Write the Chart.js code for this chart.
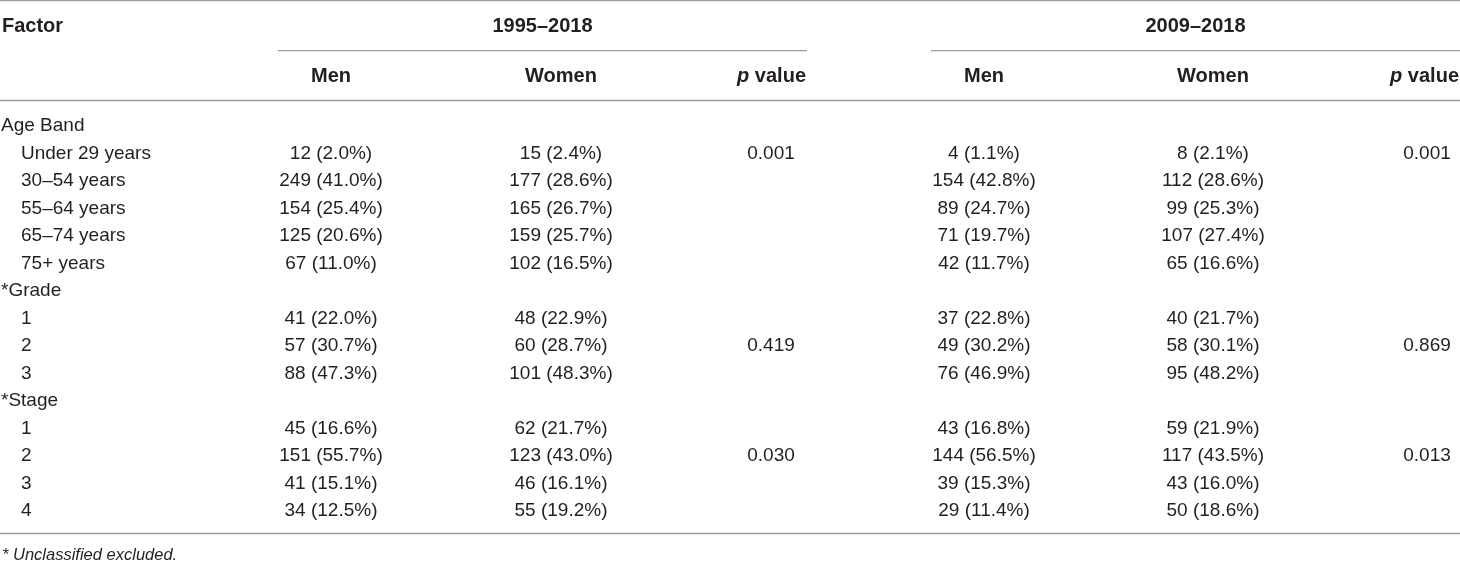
<!DOCTYPE html>
<html>
<head>
<meta charset="utf-8">
<script src="https://cdn.jsdelivr.net/npm/chart.js@4/dist/chart.umd.min.js"></script>
<style>
  html, body { margin: 0; padding: 0; background: #fff; }
  canvas { display: block; }
</style>
</head>
<body>
<canvas id="table" width="1460" height="561"></canvas>
<script>
// --- table data ---
const periods = ['1995–2018', '2009–2018'];
const factors = ['Age Band', '*Grade', '*Stage'];
const levels = [
  ['Under 29 years', '30–54 years', '55–64 years', '65–74 years', '75+ years'],
  ['1', '2', '3'],
  ['1', '2', '3', '4']
];

// counts and percentages, levels flattened in order age, grade, stage
const menN9518   = [12, 249, 154, 125, 67, 41, 57, 88, 45, 151, 41, 34];
const menP9518   = [2.0, 41.0, 25.4, 20.6, 11.0, 22.0, 30.7, 47.3, 16.6, 55.7, 15.1, 12.5];
const womenN9518 = [15, 177, 165, 159, 102, 48, 60, 101, 62, 123, 46, 55];
const womenP9518 = [2.4, 28.6, 26.7, 25.7, 16.5, 22.9, 28.7, 48.3, 21.7, 43.0, 16.1, 19.2];
const menN0918   = [4, 154, 89, 71, 42, 37, 49, 76, 43, 144, 39, 29];
const menP0918   = [1.1, 42.8, 24.7, 19.7, 11.7, 22.8, 30.2, 46.9, 16.8, 56.5, 15.3, 11.4];
const womenN0918 = [8, 112, 99, 107, 65, 40, 58, 95, 59, 117, 43, 50];
const womenP0918 = [2.1, 28.6, 25.3, 27.4, 16.6, 21.7, 30.1, 48.2, 21.9, 43.5, 16.0, 18.6];

const pValues9518 = ['0.001', '0.419', '0.030'];
const pValues0918 = ['0.001', '0.869', '0.013'];
const pLevel = [0, 1, 1]; // level row that carries the p value of each factor

const footnote = '* Unclassified excluded.';

// --- layout (pixels on x, row units on y) ---
const COL_X = [331, 561, 984, 1213];
const P_X = [771, 1427];
const SPANS = [[278, 807], [931, 1460]];
const ROW_H = 27.5;
const FIRST_ROW_PX = 126;
const Y_MIN = -FIRST_ROW_PX / ROW_H;
const Y_MAX = Y_MIN + 561 / ROW_H;
const rowAt = px => (px - FIRST_ROW_PX) / ROW_H;

const INK = '#231f20';
const RULE = '#9d9d9d';
const FONT = '"Liberation Sans", Arial, Helvetica, sans-serif';
const REG = '19px ' + FONT;
const BOLD = 'bold 20px ' + FONT;

// build row positions
const labelPts = [], labelTxt = [];
const levelRow = []; // row index for each flattened level
const pRows = [];
let r = 0;
factors.forEach((f, fi) => {
  labelPts.push({x: 1, y: r}); labelTxt.push(f); r++;
  levels[fi].forEach((lv, li) => {
    labelPts.push({x: 21, y: r}); labelTxt.push(lv);
    levelRow.push(r);
    if (li === pLevel[fi]) pRows.push(r);
    r++;
  });
});

const fmt = (n, p) => n + ' (' + p.toFixed(1) + '%)';
function cellSet(ns, ps, col) {
  return {
    data: ns.map((n, i) => ({x: COL_X[col], y: levelRow[i]})),
    texts: ns.map((n, i) => fmt(n, ps[i])),
    align: 'center'
  };
}
function pSet(vals, col) {
  return {
    data: vals.map((v, i) => ({x: P_X[col], y: pRows[i]})),
    texts: vals,
    align: 'center'
  };
}

const datasets = [
  {data: labelPts, texts: labelTxt, align: 'left'},
  cellSet(menN9518, menP9518, 0),
  cellSet(womenN9518, womenP9518, 1),
  pSet(pValues9518, 0),
  cellSet(menN0918, menP0918, 2),
  cellSet(womenN0918, womenP0918, 3),
  pSet(pValues0918, 1)
].map(d => Object.assign({pointRadius: 0, pointHoverRadius: 0, showLine: false}, d));

// draws cell text at the points the scales placed
const cellText = {
  id: 'cellText',
  afterDatasetsDraw(chart) {
    const ctx = chart.ctx;
    ctx.save();
    ctx.fillStyle = INK;
    ctx.font = REG;
    ctx.textBaseline = 'middle';
    chart.data.datasets.forEach((ds, i) => {
      ctx.textAlign = ds.align;
      chart.getDatasetMeta(i).data.forEach((el, j) => {
        ctx.fillText(ds.texts[j], el.x, el.y);
      });
    });
    ctx.restore();
  }
};

// header rows, rules and footnote
const frame = {
  id: 'frame',
  afterDraw(chart) {
    const {ctx, scales: {x, y}} = chart;
    const X = v => x.getPixelForValue(v);
    const Y = v => y.getPixelForValue(v);
    ctx.save();
    ctx.strokeStyle = RULE;
    ctx.lineWidth = 1.3;
    const rule = (x0, x1, py) => {
      ctx.beginPath();
      ctx.moveTo(X(x0), Y(rowAt(py)));
      ctx.lineTo(X(x1), Y(rowAt(py)));
      ctx.stroke();
    };
    rule(0, 1460, 0.7);
    rule(0, 1460, 100.5);
    rule(0, 1460, 533.5);
    SPANS.forEach(s => rule(s[0], s[1], 50.7));

    ctx.fillStyle = INK;
    ctx.textBaseline = 'middle';
    ctx.font = BOLD;
    ctx.textAlign = 'left';
    ctx.fillText('Factor', X(2), Y(rowAt(26.7)));
    ctx.textAlign = 'center';
    periods.forEach((p, i) => {
      ctx.fillText(p, X((SPANS[i][0] + SPANS[i][1]) / 2), Y(rowAt(26.7)));
    });
    const yh = Y(rowAt(76.7));
    [0, 1].forEach(g => {
      ctx.font = BOLD;
      ctx.textAlign = 'center';
      ctx.fillText('Men', X(COL_X[g * 2]), yh);
      ctx.fillText('Women', X(COL_X[g * 2 + 1]), yh);
      // "p value", p in italic, right aligned to the group rule
      const pFont = 'italic bold 20px ' + FONT;
      ctx.font = BOLD;
      const wv = ctx.measureText(' value').width;
      ctx.font = pFont;
      const wp = ctx.measureText('p').width;
      const right = X(SPANS[g][1]) - 1;
      ctx.textAlign = 'left';
      ctx.fillText('p', right - wv - wp, yh);
      ctx.font = BOLD;
      ctx.fillText(' value', right - wv, yh);
    });

    ctx.font = 'italic 16.5px ' + FONT;
    ctx.textAlign = 'left';
    ctx.fillText(footnote, X(2), Y(rowAt(555.5)));
    ctx.restore();
  }
};

new Chart(document.getElementById('table'), {
  type: 'scatter',
  data: {datasets: datasets},
  options: {
    responsive: false,
    animation: false,
    events: [],
    layout: {padding: 0},
    plugins: {legend: {display: false}, tooltip: {enabled: false}},
    scales: {
      x: {type: 'linear', min: 0, max: 1460, display: false},
      y: {type: 'linear', min: Y_MIN, max: Y_MAX, reverse: true, display: false}
    }
  },
  plugins: [cellText, frame]
});
</script>
</body>
</html>
